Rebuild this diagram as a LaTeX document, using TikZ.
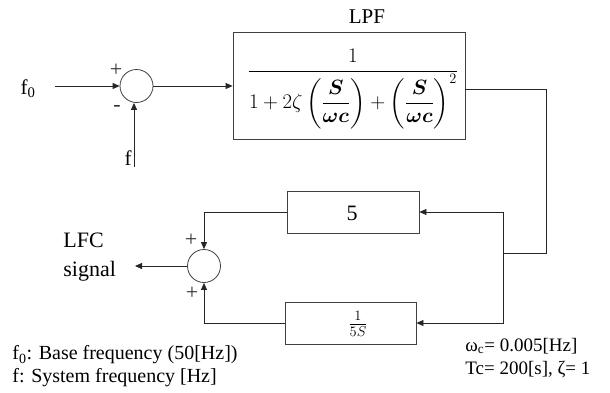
\documentclass[tikz,border=0pt]{standalone}
\usepackage{amsmath,amssymb,bm}
\usepackage{fontspec}
\setmainfont{Liberation Serif}
\usetikzlibrary{arrows.meta,calc}
\begin{document}
\begin{tikzpicture}[x=1pt,y=-1pt,
  line width=0.8pt,
  wire/.style={draw=black!85},
  arr/.style={wire,-{Triangle[length=7pt,width=6pt]}},
  sumnode/.style={circle,draw=black!75,minimum size=33pt,inner sep=0pt},
  blk/.style={rectangle,draw=black!75,inner sep=0pt},
  lbl/.style={font=\fontsize{20}{23}\selectfont,inner sep=0pt},
  sgn/.style={font=\fontsize{22}{24}\selectfont,inner sep=0pt,text=black!80}
]
\useasboundingbox (0,0) rectangle (610,392);

% summing junctions
\node[sumnode] (s1) at (136.5,86) {};
\node[sumnode] (s2) at (204,266) {};

% blocks
\node[blk,minimum width=232pt,minimum height=107pt] (lpf) at (349,85.5) {};
\node[inner sep=0pt,font=\fontsize{21}{25}\selectfont] (lpfeq) at (353,89)
  {$\displaystyle\frac{1}{1+2\zeta\left(\dfrac{\bm{S}}{\bm{\omega c}}\right)+\left(\dfrac{\bm{S}}{\bm{\omega c}}\right)^{2}}$};
\node[lbl,font=\fontsize{21}{24}\selectfont] (lpflbl) at (367,17) {LPF};

\node[blk,minimum width=132pt,minimum height=42pt] (b5) at (353,212) {};
\node[lbl,font=\fontsize{22}{24}\selectfont] (b5t) at (352,213) {5};
\node[blk,minimum width=131pt,minimum height=42pt] (bi) at (350.5,323) {};
\node[inner sep=0pt,font=\fontsize{22}{24}\selectfont] (bit) at (358,324) {$\frac{1}{5S}$};

% labels
\node[lbl,font=\fontsize{21}{24}\selectfont] (f0) at (28,89) {f\textsubscript{0}};
\node[lbl,font=\fontsize{21}{24}\selectfont] (f) at (128,158) {f};
\node[sgn] (p1) at (116,70) {+};
\node[sgn] (m1) at (117,108) {-};
\node[sgn] (p2) at (191,240) {+};
\node[sgn] (p3) at (192,293) {+};
\node[lbl,align=left,anchor=west,font=\fontsize{22}{29}\selectfont] (lfc) at (63,257) {LFC\\signal};

\node[lbl,anchor=west] (leg1) at (12,355) {f\textsubscript{0}: Base frequency (50[Hz])};
\node[lbl,anchor=west] (leg2) at (12,378) {f: System frequency [Hz]};
\node[lbl,anchor=west,font=\fontsize{19}{22}\selectfont] (par1) at (465,346) {ω\textsubscript{c}= 0.005[Hz]};
\node[lbl,anchor=west,font=\fontsize{19}{22}\selectfont] (par2) at (465,369) {Tc= 200[s], ζ= 1};

% coordinates
\coordinate (f0in) at (55,86);
\coordinate (fin) at (134,167);
\coordinate (lpfout) at (465,89);
\coordinate (rc) at (546,253);
\coordinate (jn) at (503,253);
\coordinate (lfcout) at (135,266);

% connectors
\draw[arr] (f0in) -- (s1.west);
\draw[arr] (fin) -- (fin |- s1.south);
\draw[arr] (s1.east) -- (lpf.west |- s1.east);
\draw[wire] (lpfout) -| (rc) -- (jn);
\draw[arr] (jn) |- (b5.east);
\draw[arr] (jn) |- (bi.east);
\draw[arr] (b5.west) -| (s2.north);
\draw[arr] (bi.west) -| (s2.south);
\draw[arr] (s2.west) -- (lfcout);
\end{tikzpicture}
\end{document}
